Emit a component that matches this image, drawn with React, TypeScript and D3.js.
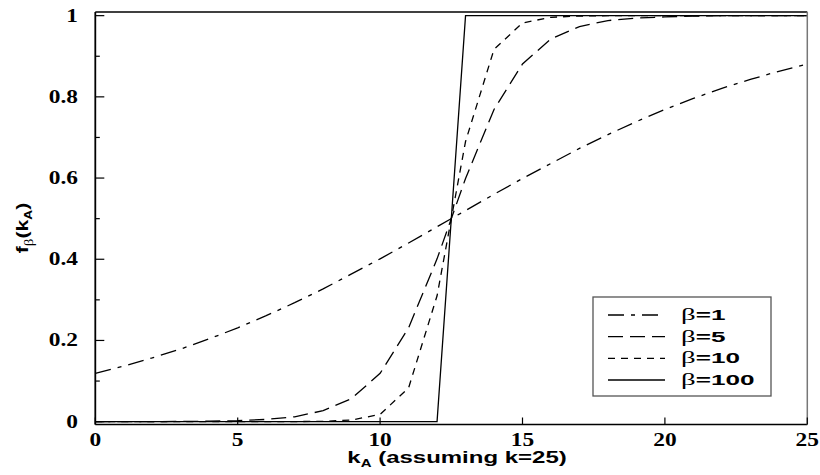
import React, { useEffect, useRef } from "react";
import * as d3 from "d3";

// k_A values (integer steps) and f_beta(k_A)
const kA = [0, 1, 2, 3, 4, 5, 6, 7, 8, 9, 10, 11, 12, 13, 14, 15, 16, 17, 18, 19, 20, 21, 22, 23, 24, 25];
const beta1 = [0.119, 0.137, 0.157, 0.179, 0.204, 0.231, 0.261, 0.293, 0.327, 0.364, 0.401, 0.44, 0.48, 0.52, 0.56, 0.599, 0.636, 0.673, 0.707, 0.739, 0.769, 0.796, 0.821, 0.843, 0.863, 0.881];
const beta5 = [0.0, 0.0001, 0.0002, 0.0005, 0.0011, 0.0025, 0.0055, 0.012, 0.027, 0.057, 0.119, 0.231, 0.401, 0.599, 0.769, 0.881, 0.943, 0.973, 0.988, 0.994, 0.997, 0.999, 1, 1, 1, 1];
const beta10 = [0, 0, 0, 0, 0, 0, 0, 0.0002, 0.0007, 0.004, 0.018, 0.083, 0.31, 0.69, 0.917, 0.982, 0.996, 0.999, 1, 1, 1, 1, 1, 1, 1, 1];
const beta100 = [0, 0, 0, 0, 0, 0, 0, 0, 0, 0, 0, 0, 0, 1, 1, 1, 1, 1, 1, 1, 1, 1, 1, 1, 1, 1];

const seriesNames = ["1", "5", "10", "100"];
const seriesValues = [beta1, beta5, beta10, beta100];
const seriesDash = ["16 7 4 7", "15 7", "7 6", null];

const xTicks = [0, 5, 10, 15, 20, 25];
const yTicks = [0, 0.2, 0.4, 0.6, 0.8, 1];
const yTickLabels = ["0", "0.2", "0.4", "0.6", "0.8", "1"];
const yMinorTicks = [0.1, 0.3, 0.5, 0.7, 0.9];

const W = 820;
const H = 475;

const SERIF = "Liberation Serif";
const SANS = "Liberation Sans";

const App = () => {
  const ref = useRef<SVGSVGElement | null>(null);

  useEffect(() => {
    const svg = d3.select(ref.current);
    svg.selectAll("*").remove();

    const x = d3.scaleLinear().domain([0, 25]).range([95.3, 807.3]);
    const y = d3.scaleLinear().domain([-0.007, 1.009]).range([424.5, 12]);
    const [x0, x1] = x.range();
    const [yb, yt] = y.range();

    // curves
    const line = d3
      .line<number>()
      .x((_, i) => x(kA[i]))
      .y((d) => y(d));

    seriesValues.forEach((vals, i) => {
      svg
        .append("path")
        .datum(vals)
        .attr("d", line)
        .attr("fill", "none")
        .attr("stroke", "#000")
        .attr("stroke-width", 1.3)
        .attr("stroke-dasharray", seriesDash[i]);
    });

    // frame
    const frame = svg.append("g").attr("fill", "none");
    frame.append("line").attr("x1", x0).attr("x2", x1).attr("y1", yt).attr("y2", yt).attr("stroke", "#000").attr("stroke-width", 1.6);
    frame.append("line").attr("x1", x0).attr("x2", x1).attr("y1", yb).attr("y2", yb).attr("stroke", "#000").attr("stroke-width", 1.6);
    frame.append("line").attr("x1", x0).attr("x2", x0).attr("y1", yt).attr("y2", yb).attr("stroke", "#000").attr("stroke-width", 1.8);
    frame.append("line").attr("x1", x1).attr("x2", x1).attr("y1", yt).attr("y2", yb).attr("stroke", "#777").attr("stroke-width", 1.5);

    // y ticks
    svg
      .append("g")
      .selectAll("line")
      .data(yTicks)
      .join("line")
      .attr("x1", x0)
      .attr("x2", x0 + 9)
      .attr("y1", (d) => y(d))
      .attr("y2", (d) => y(d))
      .attr("stroke", "#000")
      .attr("stroke-width", 1.2);
    svg
      .append("g")
      .selectAll("line")
      .data(yMinorTicks)
      .join("line")
      .attr("x1", x0)
      .attr("x2", x0 + 4.5)
      .attr("y1", (d) => y(d))
      .attr("y2", (d) => y(d))
      .attr("stroke", "#000")
      .attr("stroke-width", 1.2);

    // x ticks
    svg
      .append("g")
      .selectAll("line")
      .data(xTicks)
      .join("line")
      .attr("x1", (d) => x(d))
      .attr("x2", (d) => x(d))
      .attr("y1", yb)
      .attr("y2", yb - 7)
      .attr("stroke", "#000")
      .attr("stroke-width", 1.2);

    // tick labels (the original is stretched sideways)
    svg
      .append("g")
      .selectAll("text")
      .data(yTicks)
      .join("text")
      .attr("transform", (d) => `translate(78,${y(d) + 6}) scale(1.3,1)`)
      .attr("text-anchor", "end")
      .attr("font-family", SERIF)
      .attr("font-weight", "bold")
      .attr("font-size", 18)
      .text((_, i) => yTickLabels[i]);

    svg
      .append("g")
      .selectAll("text")
      .data(xTicks)
      .join("text")
      .attr("transform", (d) => `translate(${x(d)},446) scale(1.3,1)`)
      .attr("text-anchor", "middle")
      .attr("font-family", SERIF)
      .attr("font-weight", "bold")
      .attr("font-size", 18)
      .text((d) => String(d));

    // x title
    const xt = svg
      .append("text")
      .attr("transform", "translate(457,463) scale(1.5,1)")
      .attr("text-anchor", "middle")
      .attr("font-family", SANS)
      .attr("font-weight", "bold")
      .attr("font-size", 16);
    xt.append("tspan").text("k");
    xt.append("tspan").attr("dy", 4).attr("font-size", 10).text("A");
    xt.append("tspan").attr("dy", -4).text(" (assuming k=25)");

    // y title
    const yt2 = svg
      .append("text")
      .attr("transform", "translate(28,228) rotate(-90) scale(1.25,1)")
      .attr("text-anchor", "middle")
      .attr("font-family", SANS)
      .attr("font-weight", "bold")
      .attr("font-size", 17);
    yt2.append("tspan").text("f");
    yt2
      .append("tspan")
      .attr("dy", 5)
      .attr("font-family", SERIF)
      .attr("font-weight", "normal")
      .attr("font-size", 12)
      .text("β");
    yt2.append("tspan").attr("dy", -5).text("(k");
    yt2.append("tspan").attr("dy", 4).attr("font-size", 11).text("A");
    yt2.append("tspan").attr("dy", -4).text(")");

    // legend
    const lg = svg.append("g");
    lg.append("rect")
      .attr("x", 593)
      .attr("y", 297)
      .attr("width", 178)
      .attr("height", 99)
      .attr("fill", "#fff")
      .attr("stroke", "#555")
      .attr("stroke-width", 1.3);
    const rowY = d3.scalePoint<string>().domain(seriesNames).range([315, 380]);
    seriesNames.forEach((name, i) => {
      const ry = rowY(name) as number;
      lg.append("line")
        .attr("x1", 608)
        .attr("x2", 665)
        .attr("y1", ry)
        .attr("y2", ry)
        .attr("stroke", "#000")
        .attr("stroke-width", 1.3)
        .attr("stroke-dasharray", seriesDash[i]);
      const t = lg
        .append("text")
        .attr("transform", `translate(681,${ry + 5}) scale(1.8,1)`)
        .attr("font-family", SANS)
        .attr("font-weight", "bold")
        .attr("font-size", 14.5);
      t.append("tspan")
        .attr("font-family", SERIF)
        .attr("font-weight", "normal")
        .attr("font-size", 16)
        .text("β");
      t.append("tspan").text("=" + name);
    });
  }, []);

  return (
    <svg
      ref={ref}
      width={W}
      height={H}
      style={{ position: "absolute", left: 0, top: 0, background: "#fff" }}
    />
  );
};

export default App;
